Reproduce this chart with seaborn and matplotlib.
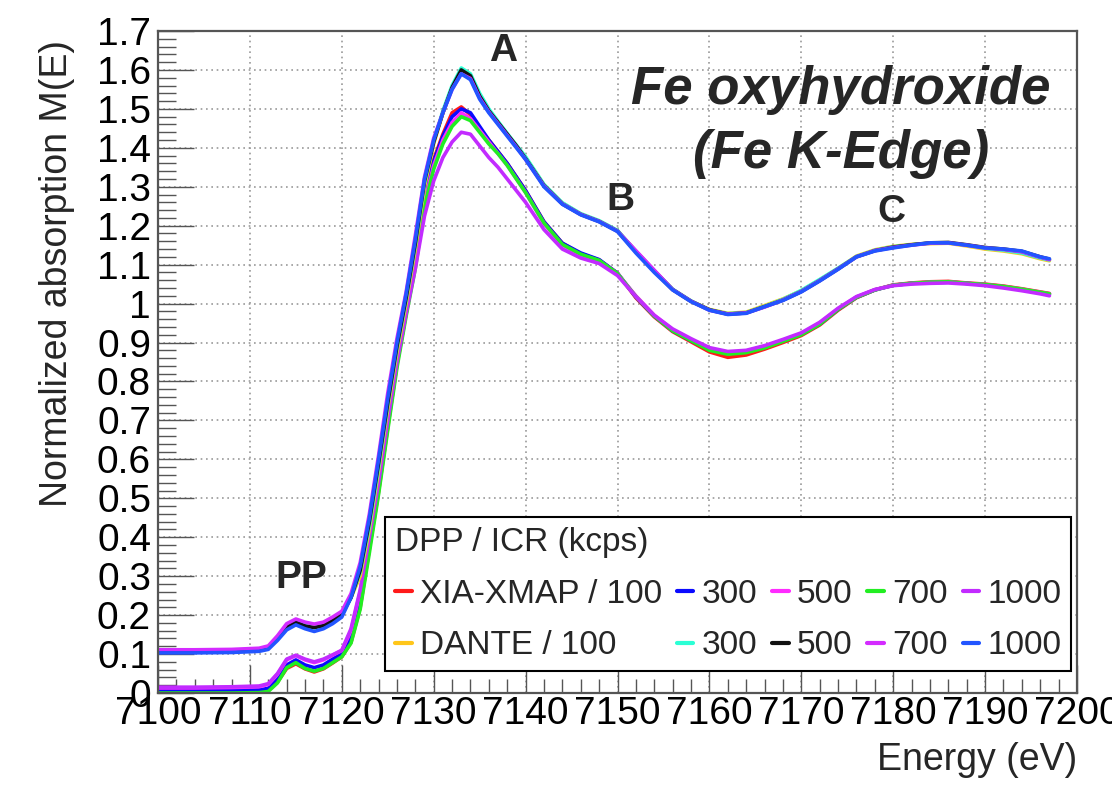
import numpy as np
import pandas as pd
import matplotlib
matplotlib.use("Agg")
import matplotlib.pyplot as plt
from matplotlib.lines import Line2D
from matplotlib.ticker import MultipleLocator, FuncFormatter
import seaborn as sns

# Photon energy grid (eV)
energy = [7100, 7104, 7108, 7111,
          7112, 7113, 7114, 7115, 7116, 7117, 7118, 7119, 7120,
          7121, 7122, 7123, 7124, 7125, 7126, 7127, 7128, 7129, 7130,
          7131, 7132, 7133, 7134, 7135, 7136, 7137, 7138, 7139, 7140,
          7142, 7144, 7146, 7148, 7150, 7152, 7154, 7156, 7158, 7160,
          7162, 7164, 7166, 7168, 7170, 7172, 7174, 7176, 7178, 7180,
          7182, 7184, 7186, 7188, 7190, 7192, 7194, 7196, 7197]

# XIA-XMAP spectra, one per input count rate (kcps)
xia_100 = [0.002, 0.002, 0.003, 0.004,
           0.007, 0.028, 0.063, 0.075, 0.062, 0.054, 0.062, 0.077, 0.093,
           0.130, 0.220, 0.370, 0.517, 0.683, 0.843, 0.975, 1.100, 1.270, 1.370,
           1.435, 1.490, 1.505, 1.485, 1.450, 1.420, 1.390, 1.360, 1.325, 1.290,
           1.210, 1.155, 1.128, 1.112, 1.078, 1.015, 0.966, 0.928, 0.902, 0.876,
           0.862, 0.868, 0.883, 0.900, 0.918, 0.945, 0.983, 1.015, 1.035, 1.048,
           1.053, 1.056, 1.057, 1.053, 1.050, 1.045, 1.038, 1.030, 1.026]
xia_300 = [0.006, 0.006, 0.007, 0.008,
           0.012, 0.035, 0.072, 0.085, 0.072, 0.065, 0.072, 0.087, 0.102,
           0.145, 0.240, 0.385, 0.530, 0.695, 0.850, 0.980, 1.105, 1.265, 1.365,
           1.430, 1.480, 1.500, 1.490, 1.455, 1.420, 1.390, 1.360, 1.325, 1.290,
           1.210, 1.155, 1.130, 1.113, 1.078, 1.017, 0.968, 0.930, 0.905, 0.882,
           0.872, 0.876, 0.888, 0.904, 0.921, 0.947, 0.985, 1.016, 1.035, 1.047,
           1.052, 1.054, 1.055, 1.052, 1.048, 1.043, 1.036, 1.028, 1.024]
xia_500 = [0.013, 0.013, 0.014, 0.016,
           0.022, 0.048, 0.085, 0.096, 0.085, 0.078, 0.085, 0.097, 0.109,
           0.160, 0.260, 0.400, 0.545, 0.705, 0.855, 0.985, 1.110, 1.260, 1.355,
           1.420, 1.465, 1.490, 1.475, 1.445, 1.415, 1.385, 1.355, 1.320, 1.285,
           1.205, 1.150, 1.125, 1.110, 1.077, 1.020, 0.970, 0.933, 0.907, 0.884,
           0.874, 0.878, 0.890, 0.906, 0.923, 0.950, 0.987, 1.017, 1.036, 1.047,
           1.052, 1.055, 1.056, 1.052, 1.049, 1.044, 1.037, 1.029, 1.025]
xia_700 = [0.000, 0.000, 0.000, 0.001,
           0.004, 0.026, 0.065, 0.078, 0.063, 0.056, 0.063, 0.078, 0.093,
           0.128, 0.215, 0.360, 0.510, 0.675, 0.835, 0.968, 1.090, 1.250, 1.345,
           1.410, 1.455, 1.480, 1.470, 1.440, 1.410, 1.385, 1.355, 1.320, 1.285,
           1.207, 1.152, 1.127, 1.111, 1.077, 1.018, 0.968, 0.930, 0.905, 0.880,
           0.870, 0.874, 0.886, 0.903, 0.920, 0.947, 0.985, 1.016, 1.035, 1.047,
           1.052, 1.055, 1.056, 1.052, 1.049, 1.044, 1.037, 1.029, 1.025]
xia_1000 = [0.015, 0.015, 0.016, 0.018,
            0.024, 0.050, 0.087, 0.097, 0.087, 0.080, 0.087, 0.098, 0.110,
            0.165, 0.265, 0.400, 0.540, 0.700, 0.850, 0.975, 1.090, 1.225, 1.315,
            1.375, 1.415, 1.440, 1.435, 1.405, 1.375, 1.350, 1.320, 1.290, 1.260,
            1.190, 1.140, 1.117, 1.103, 1.072, 1.018, 0.970, 0.935, 0.910, 0.887,
            0.877, 0.880, 0.892, 0.908, 0.925, 0.952, 0.988, 1.018, 1.036, 1.046,
            1.050, 1.052, 1.053, 1.050, 1.046, 1.040, 1.033, 1.025, 1.020]

# DANTE spectra, one per input count rate (kcps)
dante_100 = [0.108, 0.108, 0.109, 0.112,
             0.118, 0.142, 0.172, 0.185, 0.176, 0.170, 0.176, 0.189, 0.205,
             0.245, 0.300, 0.420, 0.570, 0.730, 0.875, 1.000, 1.140, 1.300, 1.410,
             1.490, 1.555, 1.600, 1.585, 1.535, 1.495, 1.465, 1.435, 1.405, 1.375,
             1.305, 1.258, 1.230, 1.212, 1.187, 1.133, 1.082, 1.036, 1.006, 0.985,
             0.975, 0.978, 0.995, 1.012, 1.033, 1.060, 1.090, 1.122, 1.138, 1.147,
             1.152, 1.154, 1.155, 1.148, 1.140, 1.135, 1.128, 1.115, 1.110]
dante_300 = [0.107, 0.107, 0.108, 0.111,
             0.117, 0.140, 0.170, 0.183, 0.174, 0.168, 0.174, 0.187, 0.203,
             0.245, 0.310, 0.430, 0.580, 0.740, 0.885, 1.010, 1.150, 1.310, 1.415,
             1.495, 1.560, 1.605, 1.590, 1.540, 1.500, 1.468, 1.437, 1.407, 1.377,
             1.306, 1.259, 1.231, 1.213, 1.188, 1.134, 1.084, 1.037, 1.007, 0.984,
             0.974, 0.977, 0.993, 1.011, 1.034, 1.062, 1.091, 1.121, 1.137, 1.146,
             1.151, 1.155, 1.156, 1.150, 1.142, 1.137, 1.130, 1.117, 1.112]
dante_500 = [0.106, 0.106, 0.107, 0.110,
             0.116, 0.140, 0.168, 0.182, 0.172, 0.168, 0.173, 0.186, 0.202,
             0.245, 0.315, 0.440, 0.590, 0.745, 0.890, 1.015, 1.155, 1.315, 1.415,
             1.490, 1.555, 1.600, 1.585, 1.533, 1.495, 1.465, 1.435, 1.405, 1.372,
             1.303, 1.256, 1.229, 1.211, 1.186, 1.134, 1.084, 1.036, 1.006, 0.984,
             0.973, 0.976, 0.992, 1.009, 1.031, 1.059, 1.089, 1.120, 1.136, 1.145,
             1.151, 1.156, 1.157, 1.151, 1.144, 1.140, 1.134, 1.120, 1.114]
dante_700 = [0.111, 0.111, 0.112, 0.115,
             0.121, 0.147, 0.178, 0.190, 0.182, 0.177, 0.182, 0.195, 0.210,
             0.255, 0.335, 0.460, 0.610, 0.770, 0.910, 1.030, 1.175, 1.325, 1.425,
             1.490, 1.550, 1.590, 1.578, 1.528, 1.492, 1.462, 1.432, 1.402, 1.370,
             1.302, 1.256, 1.229, 1.211, 1.186, 1.136, 1.086, 1.036, 1.006, 0.983,
             0.973, 0.976, 0.991, 1.009, 1.031, 1.059, 1.089, 1.120, 1.136, 1.144,
             1.150, 1.155, 1.156, 1.150, 1.143, 1.139, 1.133, 1.119, 1.113]
dante_1000 = [0.103, 0.103, 0.104, 0.107,
              0.112, 0.135, 0.162, 0.175, 0.165, 0.158, 0.165, 0.178, 0.195,
              0.245, 0.325, 0.450, 0.600, 0.757, 0.900, 1.025, 1.165, 1.320, 1.420,
              1.490, 1.550, 1.590, 1.575, 1.525, 1.490, 1.460, 1.430, 1.400, 1.370,
              1.300, 1.255, 1.228, 1.210, 1.185, 1.130, 1.080, 1.035, 1.005, 0.983,
              0.972, 0.975, 0.992, 1.008, 1.030, 1.058, 1.088, 1.120, 1.135, 1.143,
              1.150, 1.156, 1.156, 1.150, 1.143, 1.140, 1.135, 1.120, 1.115]

series_names = ["XIA-XMAP 100", "XIA-XMAP 300", "XIA-XMAP 500", "XIA-XMAP 700", "XIA-XMAP 1000",
                "DANTE 100", "DANTE 300", "DANTE 500", "DANTE 700", "DANTE 1000"]
series_values = [xia_100, xia_300, xia_500, xia_700, xia_1000,
                 dante_100, dante_300, dante_500, dante_700, dante_1000]
series_colors = ["#ff1a1a", "#0a0aff", "#ff2bff", "#22ee22", "#c22bff",
                 "#ffc61a", "#2bffd5", "#111111", "#d42bff", "#2255ff"]
legend_labels = ["XIA-XMAP / 100", "300", "500", "700", "1000",
                 "DANTE / 100", "300", "500", "700", "1000"]
legend_title = "DPP / ICR (kcps)"

df = pd.concat(
    [pd.DataFrame({"energy": energy, "absorption": vals, "series": name})
     for name, vals in zip(series_names, series_values)],
    ignore_index=True)
palette = dict(zip(series_names, series_colors))

sns.set_theme(style="white")
plt.rcParams["font.family"] = ["Liberation Sans", "DejaVu Sans"]

fig = plt.figure(figsize=(11.12, 7.91), dpi=100)
ax = fig.add_axes([158 / 1112, 1 - 693 / 791, (1077 - 158) / 1112, (693 - 31) / 791])

sns.lineplot(data=df, x="energy", y="absorption", hue="series",
             hue_order=series_names, palette=palette, sort=False,
             estimator=None, linewidth=2.6, legend=False, ax=ax)

ax.set_xlim(7100, 7200)
ax.set_ylim(0, 1.7)
ax.xaxis.set_major_locator(MultipleLocator(10))
ax.xaxis.set_minor_locator(MultipleLocator(2))
ax.yaxis.set_major_locator(MultipleLocator(0.1))
ax.yaxis.set_minor_locator(MultipleLocator(0.02))
ax.yaxis.set_major_formatter(FuncFormatter(lambda v, p: f"{v:.1f}".rstrip("0").rstrip(".") if abs(v) > 1e-9 else "0"))
ax.xaxis.set_major_formatter(FuncFormatter(lambda v, p: f"{v:.0f}"))

frame_col = "#555555"
ax.tick_params(axis="both", which="both", direction="in", colors="black",
               top=False, right=False, bottom=True, left=True)
ax.tick_params(axis="x", which="major", length=20, width=1.0, color=frame_col,
               labelsize=28, pad=2)
ax.tick_params(axis="x", which="minor", length=10, width=1.0, color=frame_col)
ax.tick_params(axis="y", which="major", length=26, width=1.0, color=frame_col,
               labelsize=28, pad=5)
ax.tick_params(axis="y", which="minor", length=13, width=1.0, color=frame_col)
for s in ax.spines.values():
    s.set_color(frame_col)
    s.set_linewidth(1.6)

ax.grid(True, which="major", color="#999999", linestyle=(0, (1, 2.2)), linewidth=1.2)
ax.set_axisbelow(True)

ax.set_xlabel("Energy (eV)", fontsize=27, loc="right")
ax.xaxis.set_label_coords(1.0, -0.074)
ax.set_ylabel("Normalized absorption M(E)", fontsize=27, loc="top")
ax.yaxis.set_label_coords(-0.090, 0.986)

# Feature labels
for txt, ex, ey in [("A", 7137.6, 1.648), ("B", 7150.3, 1.267),
                    ("C", 7179.8, 1.236), ("PP", 7115.6, 0.296)]:
    ax.text(ex, ey, txt, fontsize=28, fontweight="bold", ha="center", va="center")

ax.text(7174.3, 1.548, "Fe oxyhydroxide", fontsize=38, fontweight="bold",
        fontstyle="italic", ha="center", va="center")
ax.text(7174.3, 1.384, "(Fe K-Edge)", fontsize=38, fontweight="bold",
        fontstyle="italic", ha="center", va="center")

# Legend laid out column by column: each column holds XIA-XMAP then DANTE
order = [0, 5, 1, 6, 2, 7, 3, 8, 4, 9]
handles = [Line2D([], [], color=series_colors[i], lw=3) for i in order]
labels = [legend_labels[i] for i in order]
leg = ax.legend(handles, labels, ncol=5, title=legend_title, alignment="left",
                loc="upper left", bbox_to_anchor=(385 / 1112, 1 - 517 / 791),
                bbox_transform=fig.transFigure, fontsize=24, title_fontsize=24,
                frameon=True, fancybox=False, shadow=False, framealpha=1,
                edgecolor="black", handlelength=0.5, handletextpad=0.24,
                columnspacing=0.45, labelspacing=0.62, borderpad=0.3,
                borderaxespad=0)
leg.get_frame().set_linewidth(1.5)

fig.savefig("out.png", dpi=100)
